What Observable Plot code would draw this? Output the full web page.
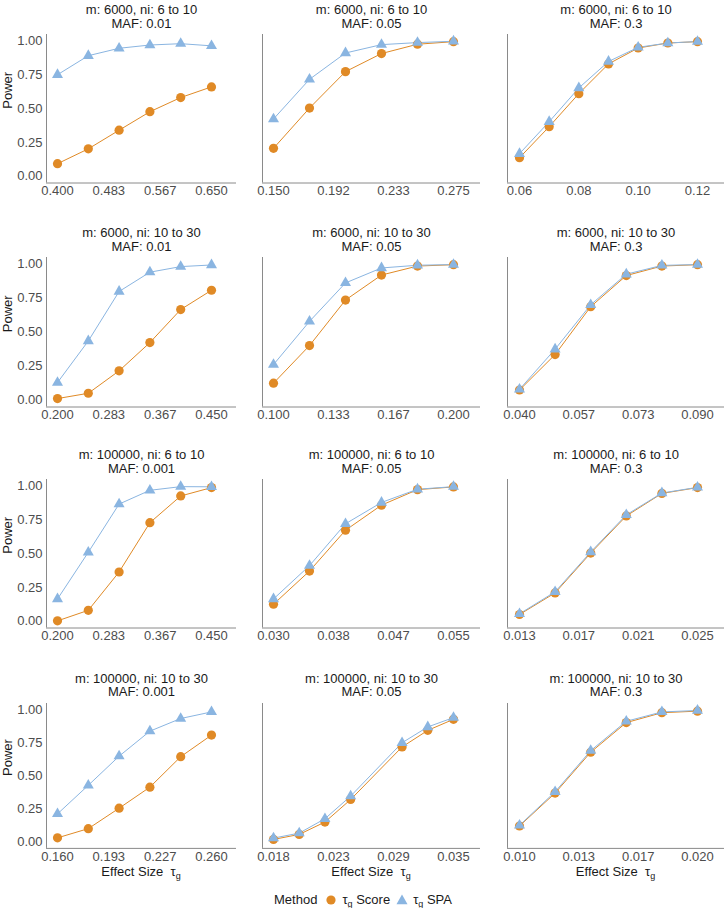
<!DOCTYPE html>
<html>
<head>
<meta charset="utf-8">
<script src="https://cdn.jsdelivr.net/npm/d3@7"></script>
<script src="https://cdn.jsdelivr.net/npm/@observablehq/plot@0.6"></script>
<style>
  body { margin: 0; background: #fff; }
  #chart { position: relative; width: 726px; height: 908px; font-family: 'Liberation Sans', Arial, sans-serif; color: #1a1a1a; overflow: hidden; }
  #chart > .panel { position: absolute; }
  .xtitle { position: absolute; font-size: 13px; text-align: center; white-space: nowrap; }
  .xtitle sub, #legend sub { font-size: 9px; vertical-align: -3px; line-height: 0; }
  #legend { position: absolute; left: 0; width: 726px; display: flex; justify-content: center; align-items: center; font-size: 13px; }
</style>
</head>
<body>
<div id="chart"></div>
<script>
// ---------- data ----------
const panelTitles = [
  "m: 6000, ni: 6 to 10\nMAF: 0.01", "m: 6000, ni: 6 to 10\nMAF: 0.05", "m: 6000, ni: 6 to 10\nMAF: 0.3",
  "m: 6000, ni: 10 to 30\nMAF: 0.01", "m: 6000, ni: 10 to 30\nMAF: 0.05", "m: 6000, ni: 10 to 30\nMAF: 0.3",
  "m: 100000, ni: 6 to 10\nMAF: 0.001", "m: 100000, ni: 6 to 10\nMAF: 0.05", "m: 100000, ni: 6 to 10\nMAF: 0.3",
  "m: 100000, ni: 10 to 30\nMAF: 0.001", "m: 100000, ni: 10 to 30\nMAF: 0.05", "m: 100000, ni: 10 to 30\nMAF: 0.3"
];
const effectSizes = [
  [0.40, 0.45, 0.50, 0.55, 0.60, 0.65],
  [0.150, 0.175, 0.200, 0.225, 0.250, 0.275],
  [0.06, 0.07, 0.08, 0.09, 0.10, 0.11, 0.12],
  [0.20, 0.25, 0.30, 0.35, 0.40, 0.45],
  [0.10, 0.12, 0.14, 0.16, 0.18, 0.20],
  [0.04, 0.05, 0.06, 0.07, 0.08, 0.09],
  [0.20, 0.25, 0.30, 0.35, 0.40, 0.45],
  [0.030, 0.035, 0.040, 0.045, 0.050, 0.055],
  [0.0125, 0.015, 0.0175, 0.020, 0.0225, 0.025],
  [0.16, 0.18, 0.20, 0.22, 0.24, 0.26],
  [0.0175, 0.020, 0.0225, 0.025, 0.030, 0.0325, 0.035],
  [0.010, 0.012, 0.014, 0.016, 0.018, 0.020]
];
const scorePower = [
  [0.093, 0.203, 0.341, 0.478, 0.583, 0.662],
  [0.207, 0.505, 0.775, 0.909, 0.978, 0.997],
  [0.137, 0.367, 0.612, 0.832, 0.950, 0.987, 0.997],
  [0.012, 0.051, 0.216, 0.424, 0.667, 0.809],
  [0.125, 0.402, 0.737, 0.921, 0.987, 0.997],
  [0.075, 0.336, 0.688, 0.917, 0.987, 0.997],
  [0.003, 0.081, 0.365, 0.730, 0.928, 0.990],
  [0.126, 0.372, 0.674, 0.860, 0.975, 0.995],
  [0.050, 0.210, 0.505, 0.780, 0.947, 0.990],
  [0.030, 0.100, 0.255, 0.415, 0.646, 0.810],
  [0.018, 0.056, 0.150, 0.321, 0.720, 0.846, 0.930],
  [0.120, 0.370, 0.680, 0.905, 0.980, 0.992]
];
const spaPower = [
  [0.752, 0.893, 0.948, 0.972, 0.982, 0.966],
  [0.424, 0.718, 0.913, 0.975, 0.990, 1.000],
  [0.167, 0.404, 0.654, 0.850, 0.955, 0.987, 0.998],
  [0.130, 0.436, 0.800, 0.942, 0.983, 0.995],
  [0.262, 0.580, 0.863, 0.973, 0.993, 0.998],
  [0.080, 0.375, 0.702, 0.927, 0.992, 0.998],
  [0.165, 0.511, 0.868, 0.970, 0.997, 0.996],
  [0.165, 0.412, 0.722, 0.880, 0.978, 0.997],
  [0.055, 0.218, 0.513, 0.788, 0.950, 0.992],
  [0.212, 0.429, 0.650, 0.840, 0.936, 0.986],
  [0.028, 0.066, 0.175, 0.347, 0.752, 0.872, 0.943],
  [0.125, 0.380, 0.692, 0.915, 0.986, 0.997]
];
const xTicks = [
  [0.4, 0.483333, 0.566667, 0.65],
  [0.15, 0.191667, 0.233333, 0.275],
  [0.06, 0.08, 0.10, 0.12],
  [0.2, 0.283333, 0.366667, 0.45],
  [0.1, 0.133333, 0.166667, 0.2],
  [0.04, 0.056667, 0.073333, 0.09],
  [0.2, 0.283333, 0.366667, 0.45],
  [0.03, 0.038333, 0.046667, 0.055],
  [0.0125, 0.016667, 0.020833, 0.025],
  [0.16, 0.193333, 0.226667, 0.26],
  [0.0175, 0.023333, 0.029167, 0.035],
  [0.01, 0.013333, 0.016667, 0.02]
];
const xTickLabels = [
  ["0.400", "0.483", "0.567", "0.650"],
  ["0.150", "0.192", "0.233", "0.275"],
  ["0.06", "0.08", "0.10", "0.12"],
  ["0.200", "0.283", "0.367", "0.450"],
  ["0.100", "0.133", "0.167", "0.200"],
  ["0.040", "0.057", "0.073", "0.090"],
  ["0.200", "0.283", "0.367", "0.450"],
  ["0.030", "0.038", "0.047", "0.055"],
  ["0.013", "0.017", "0.021", "0.025"],
  ["0.160", "0.193", "0.227", "0.260"],
  ["0.018", "0.023", "0.029", "0.035"],
  ["0.010", "0.013", "0.017", "0.020"]
];
const yTicks = [0, 0.25, 0.5, 0.75, 1];
const yAxisTitle = "Power";
const xAxisTitle = "Effect Size";
const methodTitle = "Method";
const methodNames = ["Score", "SPA"];
const colors = { Score: "#E08A26", SPA: "#8AB5E1" };

// ---------- layout ----------
const colFrames = [[46, 236], [262, 480], [507, 724]];
const colData = [[57, 211], [273, 453], [519, 697]];
const rowFrames = [[34, 182.5], [256.5, 406], [479.3, 627.8], [702.7, 847.6]];
const font = "'Liberation Sans', Arial, sans-serif";
const axisGray = "#8a8a8a";

const chart = document.getElementById("chart");

panelTitles.forEach((title, i) => {
  const r = Math.floor(i / 3), c = i % 3;
  const mL = c === 0 ? 46 : 14, mR = c === 2 ? 2 : 10, mT = 38, mB = 24;
  const [fl, fr] = colFrames[c], [ft, fb] = rowFrames[r];
  const W = mL + (fr - fl) + mR, H = mT + (fb - ft) + mB;
  const xs = effectSizes[i];
  const x0 = xs[0], x1 = xs[xs.length - 1];
  const k = (x1 - x0) / (colData[c][1] - colData[c][0]);
  const domain = [x0 - (colData[c][0] - fl) * k, x1 + (fr - colData[c][1]) * k];
  const rows = xs.map((x, j) => ({ x, score: scorePower[i][j], spa: spaPower[i][j] }));

  const marks = [
    Plot.ruleX([domain[0]], { stroke: axisGray, strokeWidth: 1 }),
    Plot.ruleY([-0.05], { stroke: axisGray, strokeWidth: 1 }),
    Plot.line(rows, { x: "x", y: "score", stroke: colors.Score, strokeWidth: 1 }),
    Plot.line(rows, { x: "x", y: "spa", stroke: colors.SPA, strokeWidth: 1 }),
    Plot.dot(rows, { x: "x", y: "score", r: 4.6, fill: colors.Score }),
    Plot.dot(rows, { x: "x", y: "spa", r: 4.1, symbol: "triangle", fill: colors.SPA }),
    Plot.text([title], { frameAnchor: "top", dy: -7, lineAnchor: "bottom", fontSize: 13, fill: "#1a1a1a", lineHeight: 1.05 })
  ];
  if (c === 0) {
    marks.push(Plot.text([yAxisTitle], { frameAnchor: "left", dx: -39, rotate: -90, fontSize: 13, fill: "#1a1a1a" }));
  }

  const svg = Plot.plot({
    width: W, height: H,
    marginLeft: mL, marginRight: mR, marginTop: mT, marginBottom: mB,
    style: { fontFamily: font, fontSize: "13px", color: "#4d4d4d", background: "transparent", overflow: "visible" },
    x: {
      domain, ticks: xTicks[i],
      tickFormat: d => xTickLabels[i][xTicks[i].indexOf(d)],
      tickSize: 0, tickPadding: 3, label: null
    },
    y: {
      domain: [-0.05, 1.05], ticks: yTicks, tickFormat: d3.format(".2f"),
      tickSize: 0, tickPadding: 4, label: null, axis: c === 0 ? "left" : null
    },
    marks
  });
  svg.classList.add("panel");
  svg.style.left = (fl - mL) + "px";
  svg.style.top = (ft - mT) + "px";
  chart.appendChild(svg);
});

// x-axis titles under bottom row
colFrames.forEach(([fl, fr]) => {
  const d = document.createElement("div");
  d.className = "xtitle";
  d.style.left = ((fl + fr) / 2 - 80) + "px";
  d.style.width = "160px";
  d.style.top = "864px";
  d.innerHTML = xAxisTitle + "&nbsp;&nbsp;τ<sub>g</sub>";
  chart.appendChild(d);
});

// legend
const legend = document.createElement("div");
legend.id = "legend";
legend.style.top = "892px";
const sym = (kind, color) => kind === "circle"
  ? `<svg width="12" height="12" style="margin:0 5px 0 0"><circle cx="6" cy="6" r="4.6" fill="${color}"/></svg>`
  : `<svg width="12" height="12" style="margin:0 5px 0 0"><path transform="translate(6,7)" d="${d3.symbol(d3.symbolTriangle, 4.1 * 4.1 * Math.PI)()}" fill="${color}"/></svg>`;
legend.innerHTML =
  `<span style="margin-right:8px">${methodTitle}</span>` +
  sym("circle", colors.Score) + `<span style="margin-right:6px">τ<sub>g</sub> ${methodNames[0]}</span>` +
  sym("triangle", colors.SPA) + `<span>τ<sub>g</sub> ${methodNames[1]}</span>`;
chart.appendChild(legend);
</script>
</body>
</html>
